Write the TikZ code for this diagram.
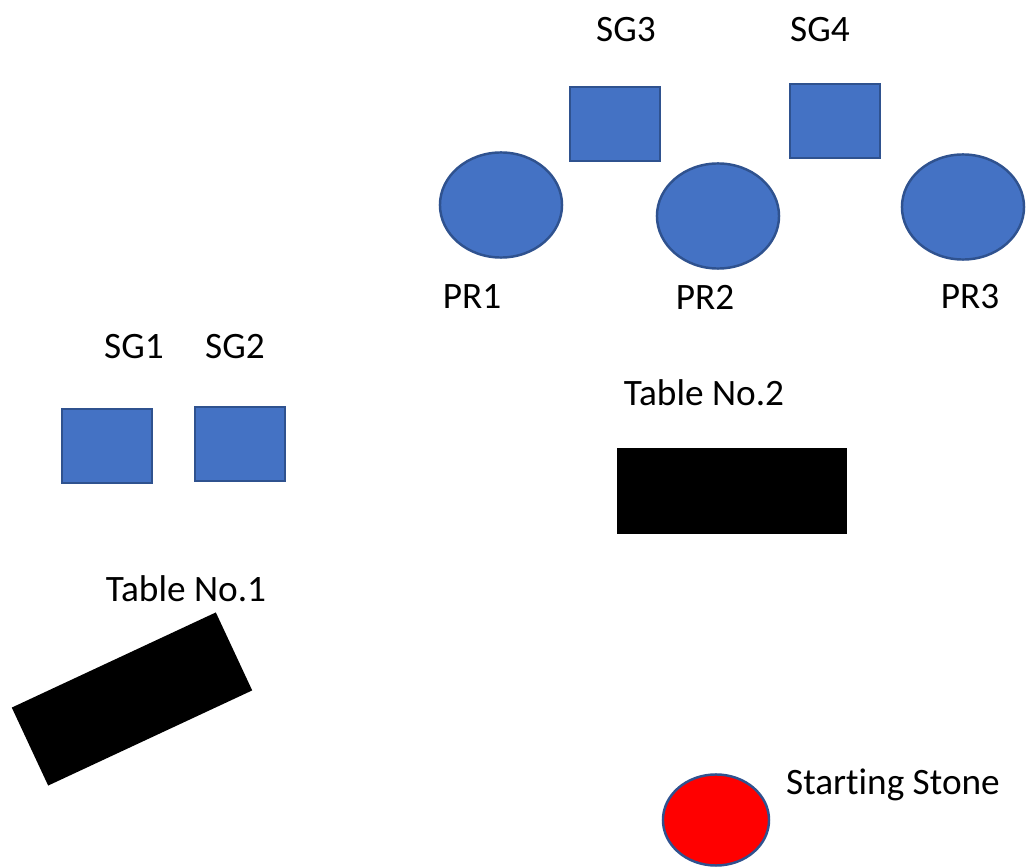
\documentclass[tikz,border=0pt]{standalone}
\usepackage{fontspec}
\setmainfont{Carlito}[Ligatures=NoCommon]
\usepackage{tikz}
\usetikzlibrary{shapes.geometric}

\definecolor{stoneblue}{HTML}{4472C4}
\definecolor{edgeblue}{HTML}{2F528F}

\tikzset{
  guard/.style={draw=edgeblue, fill=stoneblue, line width=0.7pt, minimum width=0.9cm, minimum height=0.74cm, inner sep=0pt},
  pillar/.style={draw=edgeblue, fill=stoneblue, line width=0.7pt, ellipse, minimum width=1.22cm, minimum height=1.05cm, inner sep=0pt},
  tablebox/.style={fill=black, inner sep=0pt},
  tag/.style={font=\fontsize{10.6}{12}\selectfont, inner sep=0pt}
}

\begin{document}
\begin{tikzpicture}[x=0.01cm, y=-0.01cm]
\useasboundingbox (0,0) rectangle (1026,867);
% guards
\node[guard] (sg1) at (107,446) {};
\node[guard] (sg2) at (240,444) {};
\node[guard] (sg3) at (615,124) {};
\node[guard] (sg4) at (835,121) {};
\node[tag] (sg1t) at (134,347) {SG1};
\node[tag] (sg2t) at (235,347) {SG2};
\node[tag] (sg3t) at (626,30) {SG3};
\node[tag] (sg4t) at (820,30) {SG4};
% pillars
\node[pillar] (pr1) at (501,205) {};
\node[pillar] (pr2) at (718,216) {};
\node[pillar] (pr3) at (963,207) {};
\node[tag] (pr1t) at (472,297) {PR1};
\node[tag] (pr2t) at (705,297) {PR2};
\node[tag] (pr3t) at (970,297) {PR3};
% tables
\node[tablebox, minimum width=2.3cm, minimum height=0.85cm] (tab2) at (732,491) {};
\node[tag] (tab2t) at (704,393) {Table No.2};
\node[tablebox, minimum width=2.25cm, minimum height=0.86cm, rotate=25] (tab1) at (132,699) {};
\node[tag] (tab1t) at (186,589) {Table No.1};
% start
\node[ellipse, draw=edgeblue, fill=red, line width=0.7pt, minimum width=1.06cm, minimum height=0.91cm, inner sep=0pt] (start) at (716,820) {};
\node[tag] (startt) at (893,785) {Starting Stone};
\end{tikzpicture}
\end{document}
